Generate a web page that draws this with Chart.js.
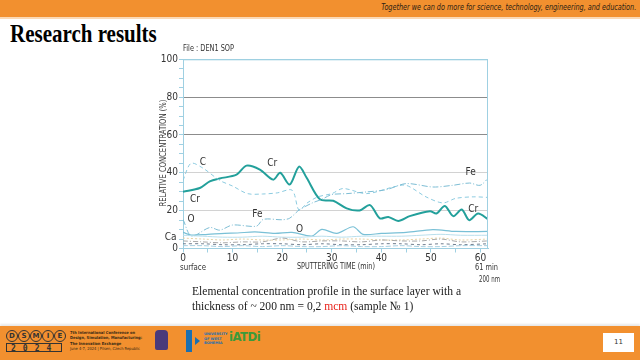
<!DOCTYPE html>
<html>
<head>
<meta charset="utf-8">
<script src="https://cdn.jsdelivr.net/npm/chart.js"></script>
<style>
  html, body { margin: 0; padding: 0; }
  body { width: 640px; height: 360px; position: relative; overflow: hidden; background: #fff; font-family: "Liberation Serif", serif; }
  .top { position: absolute; left: 0; top: 0; width: 640px; height: 17px; background: #f2902f; border-bottom: 2px solid #fbd9b6; }
  .tagline { position: absolute; right: 4px; top: 3px; font: italic 8px "DejaVu Sans Condensed", sans-serif; color: #2b2014; white-space: nowrap; transform: scaleX(0.9); transform-origin: right top; }
  .title { position: absolute; left: 10px; top: 20px; font: bold 25px "Liberation Serif", serif; color: #000; transform: scaleX(0.84); transform-origin: left top; white-space: nowrap; }
  .caption { position: absolute; left: 192px; top: 284px; font: 12.5px "Liberation Serif", serif; line-height: 14.5px; color: #1a1a1a; white-space: nowrap; transform: scaleX(0.925); transform-origin: left top; }
  .caption .red { color: #e8221b; }
  .foot { position: absolute; left: 0; top: 326px; width: 640px; height: 34px; background: #f2902f; box-shadow: 0 -2px 2px #e8e8e8; }
  .page { position: absolute; left: 603px; top: 333px; width: 31px; height: 19px; background: #fff; font: 7px "DejaVu Sans", sans-serif; text-align: center; line-height: 19px; color: #333; }
  .circ { position: absolute; top: 330px; width: 10px; height: 10px; border: 1px solid #333; border-radius: 50%; font: bold 7px "DejaVu Sans", sans-serif; text-align: center; line-height: 10px; color: #333; }
  .year { position: absolute; left: 6px; top: 343px; width: 56px; height: 9px; border: 1px solid #333; font: bold 8px "DejaVu Sans Mono", monospace; letter-spacing: 7px; line-height: 9px; padding-left: 4px; box-sizing: border-box; color: #333; }
  .conf { position: absolute; left: 70px; top: 330px; font: 4px "DejaVu Sans Condensed", sans-serif; line-height: 5.3px; color: #3a2a14; white-space: nowrap; }
  .logo1 { position: absolute; left: 155px; top: 330px; width: 13px; height: 20px; background: #4a3a7a; border-radius: 4px 4px 2px 2px; }
  .logo2 { position: absolute; left: 186px; top: 330px; width: 6px; height: 22px; background: #1b6fb0; }
  .logo2b { position: absolute; left: 195px; top: 337px; width: 0; height: 0; border-top: 4px solid transparent; border-bottom: 4px solid transparent; border-left: 5px solid #1b6fb0; }
  .logo2t { position: absolute; left: 204px; top: 332px; font: bold 3.5px "DejaVu Sans", sans-serif; color: #1b6fb0; line-height: 4.5px; }
  .logo3 { position: absolute; left: 229px; top: 329px; font: bold 13px "DejaVu Sans Condensed", sans-serif; color: #3c9a3a; letter-spacing: -0.5px; }
  #wrap { position: absolute; left: 150px; top: 40px; width: 350px; height: 245px; }
</style>
</head>
<body>
<div class="top"><div class="tagline">Together we can do more for science, technology, engineering, and education.</div></div>
<div class="title">Research results</div>

<div id="wrap"><canvas id="profile" width="350" height="245"></canvas></div>

<div class="caption">Elemental concentration profile in the surface layer with a<br>thickness of ~ 200 nm = 0,2 <span class="red">mcm</span> (sample № 1)</div>

<div class="foot"></div>
<div class="circ" style="left:6px">D</div>
<div class="circ" style="left:18px">S</div>
<div class="circ" style="left:30px">M</div>
<div class="circ" style="left:42px">I</div>
<div class="circ" style="left:54px">E</div>
<div class="year">2024</div>
<div class="conf"><b>7th International Conference on<br>Design, Simulation, Manufacturing:<br>The Innovation Exchange</b><br>June 4-7, 2024 | Pilsen, Czech Republic</div>
<div class="logo1"></div>
<div class="logo2"></div><div class="logo2b"></div>
<div class="logo2t">UNIVERSITY<br>OF WEST<br>BOHEMIA</div>
<div class="logo3">iATDi</div>
<div class="page">11</div>

<script>
// Depth profile, sputtering time (min) vs relative concentration (%)

const crTime = [0, 3.4, 5.4, 7.4, 10.8, 12.8, 15.5, 18.2, 19.6, 21.5, 23.4, 24.9, 27.6, 30.3, 33, 35.6, 37.7, 39.7, 41.4, 43.4, 45.7, 49.8, 51.1, 52.8, 54.5, 56.2, 57.7, 59.5, 61.5];
const crConc = [30, 32, 35.5, 37, 39, 43.8, 41.7, 36.4, 40, 33.8, 43.3, 37.5, 26, 25.2, 21.2, 20.1, 22.9, 15.9, 16.7, 14.6, 17.1, 19.7, 18.5, 22.5, 17.1, 20.6, 15, 18.5, 15.5];

const cTime = [0, 1.6, 4, 7.4, 10, 13, 16, 19, 22, 23.4, 25, 27.2, 30, 32.3, 37, 42.4, 45, 49, 52.4, 55, 58.5, 61.5];
const cConc = [36, 45, 42.5, 36, 33, 29, 28.8, 29.4, 30.8, 20.3, 24, 27.3, 29, 31.7, 29, 32.5, 33.4, 27.3, 24.1, 26.5, 27.3, 27];

const feTime = [0, 1.7, 5.4, 7.4, 10, 14.8, 16.2, 20, 21.5, 23.4, 26, 28, 30, 33, 37, 41, 45, 50.4, 54.4, 57.8, 59.9, 61.5];
const feConc = [15.4, 6.6, 11.1, 9.7, 12.4, 11.8, 15.4, 15.2, 16, 20.3, 24, 26, 28.5, 29, 29.9, 31.1, 34.3, 32.5, 33.4, 34.6, 33.4, 37];

const oTime = [0, 1.7, 5, 8.4, 11, 14.5, 18.5, 22, 26, 28, 31, 34.3, 36.3, 40, 45, 50.4, 55, 61.5];
const oConc = [8.5, 7.1, 7.5, 8, 8.2, 8.8, 8, 8.5, 6.6, 10.1, 8, 11.5, 7.5, 8, 8.5, 10, 9, 9];

const lowTime = [0, 4, 8, 12, 16, 20, 24, 28, 32, 36, 40, 44, 48, 52, 56, 61.5];
const caConc = [7, 6.5, 6, 6, 6.5, 6, 6, 6.5, 6, 6.5, 6.5, 6.5, 7, 7.5, 7, 7];
const nConc = [5.5, 5, 4.5, 5, 4.5, 4.5, 5, 4.5, 5, 5, 4.5, 4.5, 5, 5.5, 4.5, 5];
const sConc = [4, 3.5, 3, 3.5, 3.5, 5.5, 3.5, 4, 4, 3.5, 4.5, 4, 4, 5, 3.5, 4];
const niConc = [2.5, 2.5, 2, 2, 2.5, 2.5, 2, 2.5, 2, 2, 2.5, 2.5, 2, 2.5, 2, 2.5];
const siConc = [1.5, 1.5, 1, 1.5, 1, 1.5, 1, 1, 1.5, 1, 1, 1.5, 1, 1, 1.5, 1.5];

// element tags written on the plot
const tagText = ['C', 'Cr', 'Cr', 'Fe', 'O', 'O', 'Ca', 'Fe', 'Cr'];
const tagTime = [4, 18, 2.4, 15, 1.6, 23.5, -2.5, 58, 58.5];
const tagConc = [45.5, 45, 26, 18, 15.5, 10, 6, 40, 20.5];

const condensed = '"DejaVu Sans Condensed", "Liberation Sans Narrow", sans-serif';
const axisBlue = '#9fd0e2';

function pts(t, v) {
    return t.map((x, i) => ({ x: x, y: v[i] }));
}

function line(label, t, v, color, width, dash) {
    return {
        label: label,
        data: pts(t, v),
        borderColor: color,
        borderWidth: width,
        borderDash: dash,
        pointRadius: 0,
        fill: false,
        tension: 0.3
    };
}

const datasets = [
    line('Si', lowTime, siConc, '#a9cfe0', 1, [5, 2]),
    line('Ni', lowTime, niConc, '#6f7d8e', 1, [3, 3]),
    line('S', lowTime, sConc, '#a9a9a9', 1, [5, 2, 1, 2]),
    line('N', lowTime, nConc, '#e6d3a6', 1, [2, 2]),
    line('Ca', lowTime, caConc, '#b9dfec', 1, []),
    line('O', oTime, oConc, '#79c0d6', 1.2, []),
    line('Fe', feTime, feConc, '#7dbdd4', 1, [6, 2, 1, 2]),
    line('C', cTime, cConc, '#8ccbe0', 1, [4, 3]),
    line('Cr', crTime, crConc, '#23a09b', 2, [])
];

function fitText(ctx, text, x, y, w, align) {
    const m = ctx.measureText(text).width;
    const k = Math.min(1, w / m);
    ctx.save();
    ctx.translate(x, y);
    ctx.scale(k, 1);
    ctx.textAlign = align;
    ctx.fillText(text, 0, 0);
    ctx.restore();
}

const decor = {
    id: 'decor',
    afterDraw(chart) {
        const ctx = chart.ctx;
        const a = chart.chartArea;
        const xs = chart.scales.x, ys = chart.scales.y;
        ctx.save();
        ctx.strokeStyle = axisBlue;
        ctx.lineWidth = 1;
        ctx.beginPath();
        ctx.moveTo(a.left, a.top + 0.5);
        ctx.lineTo(a.right - 0.5, a.top + 0.5);
        ctx.lineTo(a.right - 0.5, a.bottom);
        ctx.stroke();

        ctx.fillStyle = '#333';
        ctx.textBaseline = 'middle';
        ctx.font = '10px ' + condensed;
        tagText.forEach((s, i) => {
            fitText(ctx, s, xs.getPixelForValue(tagTime[i]), ys.getPixelForValue(tagConc[i]), 12, 'center');
        });

        ctx.font = '9px ' + condensed;
        fitText(ctx, 'File : DEN1 SOP', a.left, 9, 51, 'left');
        fitText(ctx, 'surface', 30, 228, 26, 'left');
        fitText(ctx, 'SPUTTERING TIME (min)', 186, 227, 78, 'center');
        fitText(ctx, '61 min', 325, 228, 23, 'left');
        fitText(ctx, '200 nm', 329, 240, 21, 'left');

        ctx.translate(14, 113);
        ctx.rotate(-Math.PI / 2);
        fitText(ctx, 'RELATIVE CONCENTRATION (%)', 0, 0, 107, 'center');
        ctx.restore();
    }
};

const config = {
    type: 'line',
    data: { datasets: datasets },
    options: {
        responsive: false,
        animation: false,
        devicePixelRatio: 1,
        layout: { padding: { left: 0, right: 12, top: 19.3, bottom: 0 } },
        plugins: { legend: { display: false }, tooltip: { enabled: false } },
        scales: {
            x: {
                type: 'linear',
                min: 0,
                max: 61.5,
                afterFit: s => { s.height = 36.5; },
                ticks: {
                    stepSize: 5,
                    includeBounds: false,
                    autoSkip: false,
                    maxRotation: 0,
                    padding: 0,
                    color: '#333',
                    font: { family: condensed, size: 10 },
                    callback: v => (v % 10 === 0 ? v : '')
                },
                grid: { color: 'rgba(0,0,0,0)', tickColor: axisBlue, tickLength: 4 },
                border: { color: axisBlue }
            },
            y: {
                min: 0,
                max: 100,
                afterFit: s => { s.width = 33; },
                ticks: {
                    stepSize: 5,
                    autoSkip: false,
                    padding: 1,
                    color: '#333',
                    font: { family: condensed, size: 10 },
                    callback: v => (v % 20 === 0 ? v : '')
                },
                grid: {
                    color: c => {
                        const v = c.tick.value;
                        if (v === 100) return axisBlue;
                        if (v === 60 || v === 80) return '#8c8c8c';
                        if (v === 20 || v === 40) return '#d2d2d2';
                        return 'rgba(0,0,0,0)';
                    },
                    tickColor: axisBlue,
                    tickLength: 4
                },
                border: { color: axisBlue }
            }
        }
    },
    plugins: [decor]
};

const profileChart = new Chart(document.getElementById('profile'), config);
</script>
</body>
</html>
